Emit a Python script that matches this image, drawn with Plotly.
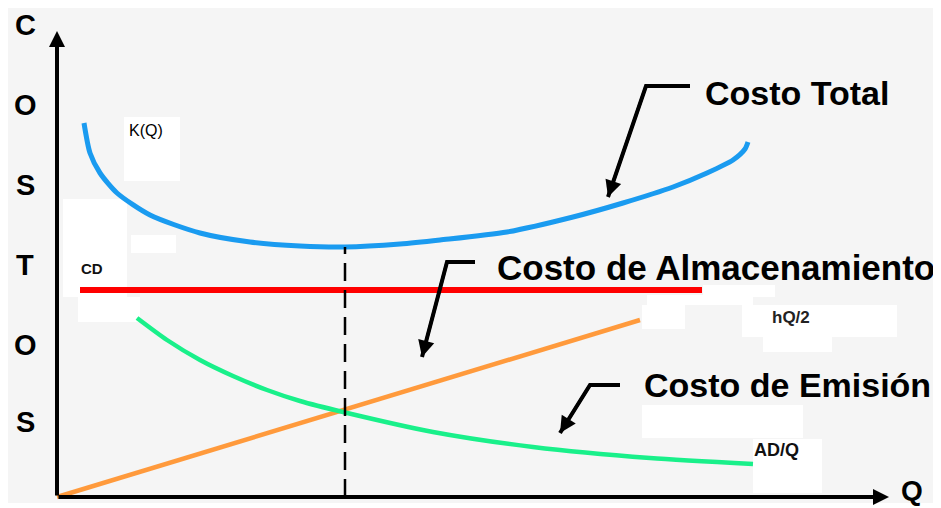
import plotly.graph_objects as go

# cost curves (Q and cost in arbitrary units)
total_q = [2.7, 3.3, 4.3, 6.0, 9.3, 14.3, 19.3, 24.3, 28.8, 34.3, 38.3, 45.0, 51.6, 56.6, 61.6, 65.0, 67.6, 68.8, 69.1]
total_c = [37.4, 34.4, 32.4, 30.4, 28.2, 26.4, 25.5, 25.1, 25.0, 25.3, 25.7, 26.5, 28.0, 29.4, 31.0, 32.4, 33.7, 34.8, 35.5]

emision_q = [8.0, 11.0, 14.3, 17.6, 21.0, 24.3, 28.6, 37.6, 47.6, 59.3, 69.6]
emision_c = [17.9, 15.7, 13.7, 12.1, 10.7, 9.6, 8.5, 6.5, 5.0, 3.9, 3.3]

almac_q = [0.0, 58.3]
almac_c = [0.0, 17.7]

fijo_q = [2.3, 64.5]
fijo_c = [20.7, 20.7]

q_opt = 28.8

fig = go.Figure()

fig.add_trace(go.Scatter(x=total_q, y=total_c, mode="lines", line=dict(color="#1a9bf0", width=5, shape="spline", smoothing=0.7), hoverinfo="skip"))
fig.add_trace(go.Scatter(x=fijo_q, y=fijo_c, mode="lines", line=dict(color="#ff0000", width=6), hoverinfo="skip"))
fig.add_trace(go.Scatter(x=almac_q, y=almac_c, mode="lines", line=dict(color="#ff9a3c", width=4.5), hoverinfo="skip"))
fig.add_trace(go.Scatter(x=emision_q, y=emision_c, mode="lines", line=dict(color="#19f08a", width=4.5, shape="spline", smoothing=0.7), hoverinfo="skip"))
fig.add_trace(go.Scatter(x=[q_opt, q_opt], y=[0, min(total_c)], mode="lines", line=dict(color="black", width=2.5, dash="18px,9px"), hoverinfo="skip"))

# the page puts the plot 8px in from the top-left corner
OFF = 8
W, H = 941 - OFF, 508 - OFF

def fx(p):
    return (p - OFF) / W

def fy(p):
    return 1 - (p - OFF) / H

shapes = []
# grey backdrop and white patches
shapes.append(dict(type="rect", xref="paper", yref="paper", x0=0, x1=1, y0=fy(503), y1=1, fillcolor="#f5f5f5", line_width=0, layer="below"))
patches = [(124, 117, 180, 181), (63, 199, 127, 297), (131, 235, 176, 253), (78, 297, 140, 322),
           (703, 285, 775, 297), (647, 295, 753, 305), (642, 305, 685, 329), (742, 305, 897, 337),
           (763, 337, 832, 352), (642, 405, 803, 438), (753, 439, 822, 493)]
for x0, y0, x1, y1 in patches:
    shapes.append(dict(type="rect", xref="paper", yref="paper", x0=fx(x0), x1=fx(x1), y0=fy(y1), y1=fy(y0),
                       fillcolor="white", line_width=0, layer="below"))

# pointer arrows (bent lines)
pointers = [((690, 86), (646, 86), (608, 197)),
            ((475, 262), (447, 262), (422, 357)),
            ((620, 385), (590, 385), (560, 433))]
annotations = []
for a, b, tip in pointers:
    shapes.append(dict(type="path", xref="paper", yref="paper",
                       path="M %f %f L %f %f L %f %f" % (fx(a[0]), fy(a[1]), fx(b[0]), fy(b[1]), fx(tip[0]), fy(tip[1])),
                       line=dict(color="black", width=4)))
    annotations.append(dict(xref="paper", yref="paper", x=fx(tip[0]), y=fy(tip[1]), ax=b[0] - tip[0], ay=b[1] - tip[1],
                            text="", showarrow=True, arrowhead=2, arrowsize=1.1,
                            arrowwidth=3, arrowcolor="black", standoff=0))

# axes with arrows
annotations.append(dict(x=0, y=46.6, ax=0, ay=0, xref="x", yref="y", axref="x", ayref="y", text="", showarrow=True,
                        arrowhead=2, arrowsize=0.8, arrowwidth=4, arrowcolor="black", standoff=0))
annotations.append(dict(x=83.2, y=0, ax=0, ay=0, xref="x", yref="y", axref="x", ayref="y", text="", showarrow=True,
                        arrowhead=2, arrowsize=0.8, arrowwidth=4, arrowcolor="black", standoff=0))

big = dict(family="Liberation Sans", size=34, color="black")

def label(text, xpx, ypx, font, anchor="left"):
    annotations.append(dict(xref="paper", yref="paper", x=fx(xpx), y=fy(ypx), text=text, showarrow=False,
                            xanchor=anchor, yanchor="middle", font=font))

for letter, ypx in zip("COSTOS", [25, 105, 185, 265, 345, 422]):
    label("<b>%s</b>" % letter, 25, ypx, dict(family="Liberation Sans", size=29, color="black"), "center")
label("<b>Q</b>", 912, 490, dict(family="Liberation Sans", size=28, color="black"), "center")

label("<b>Costo Total</b>", 703, 93, big)
label("<b>Costo de Almacenamiento</b>", 495, 267, dict(family="Liberation Sans", size=35, color="black"))
label("<b>Costo de Emisión</b>", 642, 385, big)

label("K(Q)", 127, 130, dict(family="Liberation Sans", size=16, color="black"))
label("<b>CD</b>", 79, 268, dict(family="Liberation Sans", size=15, color="#111111"))
label("<b>hQ/2</b>", 770, 317, dict(family="Liberation Sans", size=17, color="#222222"))
label("<b>AD/Q</b>", 752, 450, dict(family="Liberation Sans", size=18, color="#111111"))

fig.update_layout(
    width=W, height=H,
    margin=dict(l=0, r=0, t=0, b=0),
    paper_bgcolor="white", plot_bgcolor="rgba(0,0,0,0)",
    showlegend=False,
    shapes=shapes, annotations=annotations,
    xaxis=dict(range=[(OFF - 57) / 10, (941 - 57) / 10], visible=False, fixedrange=True),
    yaxis=dict(range=[(497 - 508) / 10, (497 - OFF) / 10], visible=False, fixedrange=True),
)

fig.write_html("out.html")
